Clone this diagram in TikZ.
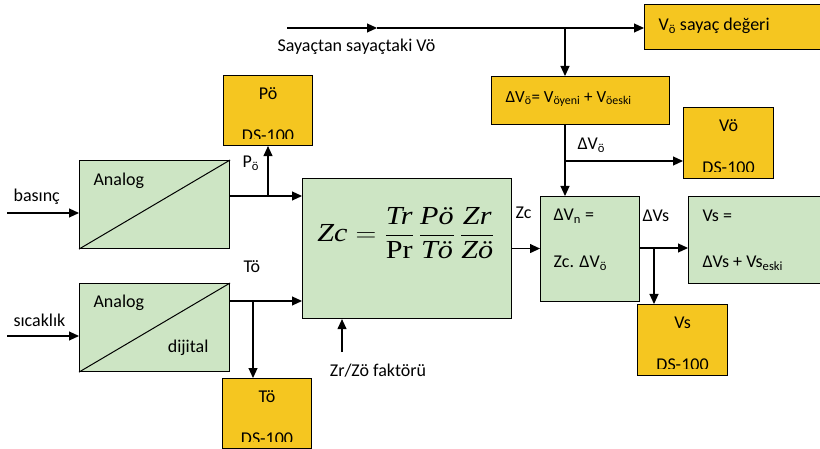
\documentclass[tikz,border=0pt]{standalone}
\usepackage{fontspec,amsmath}
\setmainfont{Carlito}
\newfontfamily\tnr{Liberation Serif}
\usetikzlibrary{arrows.meta,positioning}
\definecolor{boxgreen}{RGB}{205,229,196}
\definecolor{boxyellow}{RGB}{245,198,32}

\begin{document}
\begin{tikzpicture}[x=1pt,y=-1pt,line width=1.1pt,every node/.style={font=\fontsize{18}{21}\selectfont,inner sep=0pt},
gbox/.style={draw,fill=boxgreen,anchor=north west},ybox/.style={draw,fill=boxyellow,anchor=north west},
lbl/.style={anchor=west},arr/.style={-{Triangle[length=10pt,width=9pt]}}]
\useasboundingbox (0,0) rectangle (820,449);
% boxes
\node[gbox,minimum width=150,minimum height=88](an1) at (79,160){};\node[gbox,minimum width=150,minimum height=88](an2) at (79,283){};
\node[gbox,minimum width=209,minimum height=140](zc) at (302,178){};
\node[gbox,minimum width=99,minimum height=105](dvn) at (540,196){};\node[gbox,minimum width=135,minimum height=87](vs) at (688,196){};
\node[ybox,minimum width=180,minimum height=45](vos) at (644,4){};\node[ybox,minimum width=178,minimum height=48](dvo) at (491,76){};
\node[ybox,minimum width=89,minimum height=70](pod) at (223,75){};\node[ybox,minimum width=89,minimum height=70](tod) at (222,378){};
\node[ybox,minimum width=90,minimum height=71](vod) at (683,107){};\node[ybox,minimum width=90,minimum height=71](vsd) at (637,304){};
\draw[line width=1pt](an1.south west)--(an1.north east);\draw[line width=1pt](an2.south west)--(an2.north east);
% DS-100 displays
\foreach \n/\t in {pod/Pö,tod/Tö,vod/Vö,vsd/Vs}{\begin{scope}\clip([yshift=8pt]\n.south west) rectangle (\n.north east);
\node(\n-t) at ([yshift=-19pt]\n.north){\t};\node(\n-ds) at ([yshift=-61pt]\n.north){DS-100};\end{scope}}
% texts
\node[lbl](an1-a) at (93,181){Analog};\node[lbl](an2-a) at (93,303){Analog};\node[anchor=east](an2-d) at (209,348){dijital};
\node(f) at (406,233){\scalebox{1.16}[1]{\fontsize{26}{31}\selectfont$\text{\tnr\itshape Zc}=\dfrac{\text{\tnr\itshape Tr}}{\text{\tnr Pr}}\,\dfrac{\text{\tnr\itshape Pö}}{\text{\tnr\itshape Tö}}\,\dfrac{\text{\tnr\itshape Zr}}{\text{\tnr\itshape Zö}}$}};
\node[lbl](vos-t) at (658,26){V\textsubscript{ö} sayaç değeri};
\node[lbl,font=\fontsize{17}{20}\selectfont](dvo-t) at (505,99){ΔV\textsubscript{ö}= V\textsubscript{öyeni} + V\textsubscript{öeski}};
\node[lbl](dvn-a) at (553,216){ΔV\textsubscript{n} =};\node[lbl](dvn-b) at (553,263){Zc. ΔV\textsubscript{ö}};
\node[lbl](vs-a) at (702,216){Vs =};\node[lbl](vs-b) at (702,263){ΔVs + Vs\textsubscript{eski}};
\node[lbl](bas) at (13,197){basınç};\node[lbl](sic) at (13,320){sıcaklık};
\node[lbl](pl) at (242,163){P\textsubscript{ö}};\node[lbl](tl) at (243,267){Tö};
\node[lbl](zcl) at (515,213){Zc};\node[lbl](dvsl) at (642,216){ΔVs};\node[lbl](dvol) at (577,145){ΔV\textsubscript{ö}};
\node[lbl](src-t) at (277,47){Sayaçtan sayaçtaki Vö};\node(zr-t) at (378,371){Zr/Zö faktörü};
% connectors
\coordinate(bin) at (7,213);\coordinate(sin) at (7,336);\coordinate(p1) at (268,196);\coordinate(t1) at (253,301);
\coordinate(zr) at (342,352);\coordinate(s1) at (654,248);\coordinate(src) at (287,28);\coordinate(m1) at (377,28);
\coordinate(j1) at (565,28);\coordinate(j2) at (565,161);
\draw[arr](bin)--(bin-|an1.west);\draw[arr](sin)--(sin-|an2.west);
\draw[arr](an1.east|-p1)--(p1-|zc.west);\draw[arr](p1)--(p1|-pod.south);
\draw[arr](an2.east|-t1)--(t1-|zc.west);\draw[arr](t1)--(t1|-tod.north);
\draw[arr](zr)--(zr|-zc.south);\draw[arr](zc.east)--(zc.east-|dvn.west);
\draw[arr](dvn.east|-s1)--(s1-|vs.west);\draw[arr](s1)--(s1|-vsd.north);
\draw[arr](src)--(m1);\draw[arr](m1)--(m1-|vos.west);\draw[arr](j1)--(j1|-dvo.north);
\draw[arr](j2|-dvo.south)--(j2|-dvn.north);\draw[arr](j2)--(j2-|vod.west);
\end{tikzpicture}
\end{document}
